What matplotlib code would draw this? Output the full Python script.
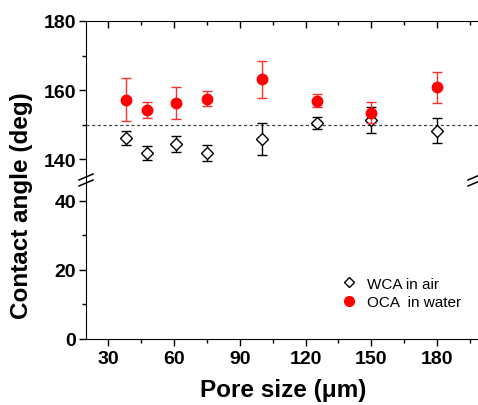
import numpy as np
import matplotlib.pyplot as plt

plt.rcParams['font.family'] = ['Liberation Sans', 'DejaVu Sans']

# pore size (um)
pore = [38, 48, 61, 75, 100, 125, 150, 180]
# water contact angle in air
wca = [146.2, 141.8, 144.3, 141.8, 145.8, 150.4, 151.3, 148.3]
wca_err = [2.0, 2.0, 2.3, 2.2, 4.7, 1.7, 3.7, 3.7]
# oil contact angle in water
oca = [157.2, 154.2, 156.2, 157.5, 163.1, 157.0, 153.5, 160.8]
oca_err = [6.2, 2.3, 4.6, 2.2, 5.3, 2.0, 3.1, 4.4]

W, H = 478, 406
fig = plt.figure(figsize=(W / 100, H / 100), dpi=100)

x0 = 86 / W
ytop, ybrk, ybot = 22, 181, 340
ax1 = fig.add_axes([x0, 1 - ybrk / H, 1 - x0 + 0.002, (ybrk - ytop) / H])
ax2 = fig.add_axes([x0, 1 - ybot / H, 1 - x0 + 0.002, (ybot - ybrk) / H])

for ax in (ax1, ax2):
    ax.set_xlim(20, 199)
    ax.spines['right'].set_visible(False)
    ax.set_xticks([30, 60, 90, 120, 150, 180])
    ax.set_xticks(np.arange(45, 200, 30), minor=True)
    ax.tick_params(axis='both', which='major', labelsize=14, length=5, width=1)
    ax.tick_params(axis='both', which='minor', length=3, width=1)

ax1.spines['bottom'].set_visible(False)
ax2.spines['top'].set_visible(False)

ax1.set_ylim(134, 180)
ax1.set_yticks([140, 160, 180])
ax1.set_yticks([150, 170], minor=True)
ax1.tick_params(axis='x', which='both', bottom=False, labelbottom=False,
                top=True, direction='in')
ax1.tick_params(axis='y', pad=2)

ax2.set_ylim(0, 46)
ax2.set_yticks([0, 20, 40])
ax2.set_yticks([10, 30], minor=True)
ax2.tick_params(axis='x', which='both', top=False, pad=3)
ax2.tick_params(axis='y', pad=2)
for lab in ax2.get_xticklabels() + ax2.get_yticklabels() + ax1.get_yticklabels():
    lab.set_fontweight('bold')

ax1.axhline(150, color='#444444', linestyle=(0, (2.5, 2)), linewidth=0.9, zorder=1)

ax1.errorbar(pore, wca, yerr=wca_err, fmt='D', color='black', mfc='white',
             mec='black', ms=6.5, mew=1.0, ecolor='black', elinewidth=1.0,
             capsize=3.5, capthick=1.0, zorder=3)
ax1.errorbar(pore, oca, yerr=oca_err, fmt='o', color='red', mfc='red',
             mec='red', ms=7.5, ecolor='#ff3030', elinewidth=1.0,
             capsize=3.5, capthick=1.0, zorder=4)

# legend on lower panel
h1 = ax2.plot([], [], 'D', mfc='white', mec='black', ms=5.5, mew=1.0)[0]
h2 = ax2.plot([], [], 'o', color='red', ms=7)[0]
ax2.legend([h1, h2], ['WCA in air', 'OCA  in water'], loc='lower right',
           bbox_to_anchor=(0.99, 0.1), frameon=False, fontsize=11,
           handletextpad=0.6, labelspacing=0.3, handlelength=1.2)

# break marks
bk = dict(color='black', linewidth=1.1, clip_on=False, transform=fig.transFigure)
for dy in (-3, 3):
    for xc in (86, 475):
        xs = np.array([xc - 7, xc + 7]) / W
        ys = 1 - (np.array([ybrk + 3, ybrk - 3]) + dy) / H
        fig.add_artist(plt.Line2D(xs, ys, **bk))

fig.text(22 / W, 1 - 206 / H, 'Contact angle (deg)', rotation=90,
         ha='center', va='center', fontsize=17.5, fontweight='bold')
fig.text(283 / W, 1 - 391 / H, 'Pore size (\u03bcm)', ha='center',
         va='center', fontsize=17.5, fontweight='bold')

fig.savefig('out.png', dpi=100)
